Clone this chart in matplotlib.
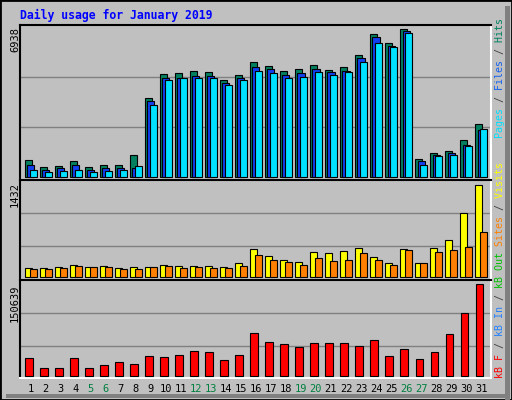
import numpy as np
import matplotlib.pyplot as plt
from matplotlib.patches import Rectangle

days = list(range(1, 32))
weekend_days = [5, 6, 12, 13, 19, 20, 26, 27]

hits = [800, 470, 520, 750, 470, 560, 560, 1030, 3700, 4830, 4880, 4970, 4920, 4550, 4780, 5390,
        5200, 4970, 5060, 5250, 5020, 5160, 5720, 6700, 6280, 6938, 840, 1120, 1220, 1730, 2480]
files = [560, 330, 400, 560, 330, 400, 400, 400, 3560, 4640, 4640, 4740, 4740, 4410, 4640, 5160,
         5060, 4780, 4880, 5060, 4920, 4970, 5580, 6560, 6140, 6840, 750, 1030, 1120, 1500, 2200]
pages = [330, 230, 280, 330, 230, 280, 330, 520, 3370, 4550, 4640, 4640, 4640, 4310, 4550, 4970,
         4880, 4640, 4690, 4920, 4780, 4920, 5390, 6280, 6100, 6750, 560, 980, 1030, 1450, 2250]
visits = [130, 130, 145, 175, 145, 160, 130, 145, 145, 175, 160, 160, 160, 145, 208, 426,
          317, 254, 223, 379, 363, 394, 441, 301, 208, 426, 208, 441, 566, 986, 1432]
sites = [114, 114, 130, 160, 145, 145, 114, 114, 145, 160, 130, 145, 130, 130, 160, 332,
         254, 223, 176, 285, 239, 254, 363, 254, 176, 410, 208, 379, 410, 456, 695]
kbytes = [28600, 12100, 12100, 28600, 12100, 17000, 22000, 18700, 31900, 30200, 33500, 40100,
          38500, 25300, 33500, 69800, 55000, 51700, 46700, 53300, 53300, 53300, 48400, 58300,
          31900, 43400, 26900, 38500, 68200, 102800, 150639]

W, H = 512, 400
BG = '#c0c0c0'
mono = 'DejaVu Sans Mono'

fig = plt.figure(figsize=(W / 100, H / 100), dpi=100, facecolor=BG)

# outer frame
fig.patches.append(Rectangle((0, 0), 1, 1, transform=fig.transFigure, fill=False,
                             edgecolor='black', lw=2))
fig.patches.append(Rectangle((505 / W, 0), 5 / W, 1 - 6 / H, transform=fig.transFigure,
                             facecolor='#808080', edgecolor='none'))
fig.patches.append(Rectangle((6 / W, 2 / H), 504 / W, 4 / H, transform=fig.transFigure,
                             facecolor='#808080', edgecolor='none'))


def make_ax(top, bottom, ylim, grid):
    left, right = 20, 491
    ax = fig.add_axes([left / W, 1 - bottom / H, (right - left) / W, (bottom - top) / H])
    ax.set_facecolor(BG)
    ax.set_xlim(0.13, 31.51)
    ax.set_ylim(*ylim)
    for g in grid:
        ax.axhline(g, color='#808080', lw=1, zorder=0)
    ax.set_xticks([])
    ax.set_yticks([])
    ax.spines['top'].set_color('black')
    ax.spines['left'].set_color('black')
    ax.spines['bottom'].set_color('white')
    ax.spines['right'].set_color('white')
    for s in ax.spines.values():
        s.set_linewidth(1.5)
    return ax


x = np.array(days)
bar_kw = dict(width=0.47, edgecolor='black', linewidth=0.8, zorder=3)

ax1 = make_ax(25, 180, (-140, 7130), [2345, 4690])
ax1.bar(x - 0.3, hits, color='#00805f', **bar_kw)
ax1.bar(x - 0.15, files, color='#1040f0', **bar_kw)
ax1.bar(x, pages, color='#00e0ff', **bar_kw)

ax2 = make_ax(180, 280, (-51, 1505), [473, 987])
ax2.bar(x - 0.3, visits, color='#ffff00', **bar_kw)
ax2.bar(x, sites, color='#ff8000', **bar_kw)

ax3 = make_ax(280, 378, (-3800, 157800), [48500, 102900])
ax3.bar(x - 0.27, kbytes, color='#ff0000', width=0.5, edgecolor='black', linewidth=0.8, zorder=3)

# day labels
for d in days:
    ax3.text(d - 0.15, -0.06, str(d), transform=ax3.get_xaxis_transform(), ha='center', va='top',
             fontsize=7.5, family=mono, color='#008040' if d in weekend_days else 'black')

fig.text(20 / W, 1 - 15 / H, 'Daily usage for January 2019', color='#0000ff', fontsize=8.3,
         family=mono, fontweight='bold', va='center')

# max values at left
for label, ytop in [('6938', 27), ('1432', 182), ('150639', 284)]:
    fig.text(15 / W, 1 - ytop / H, label, rotation=90, ha='center', va='top', fontsize=7.5,
             family=mono)


def multicolor(parts, xpix, ybottom):
    full = ''.join(p for p, _ in parts)
    pos = 0
    for text, color in parts:
        s = ' ' * pos + text + ' ' * (len(full) - pos - len(text))
        fig.text(xpix / W, 1 - ybottom / H, s, rotation=90, ha='center', va='bottom',
                 fontsize=7.2, family=mono, color=color)
        pos += len(text)


multicolor([('Pages', '#00e0ff'), (' / ', '#404040'), ('Files', '#1060f0'),
            (' / ', '#404040'), ('Hits', '#00805f')], 500, 138)
multicolor([('kB F', '#ff0000'), (' / ', '#404040'), ('kB In', '#2080ff'), (' / ', '#404040'),
            ('kB Out', '#00c000'), (' ', BG), ('Sites', '#ff8000'), (' / ', '#404040'),
            ('Visits', '#ffff00')], 500, 378)

fig.savefig('out.png', dpi=100, facecolor=BG)
